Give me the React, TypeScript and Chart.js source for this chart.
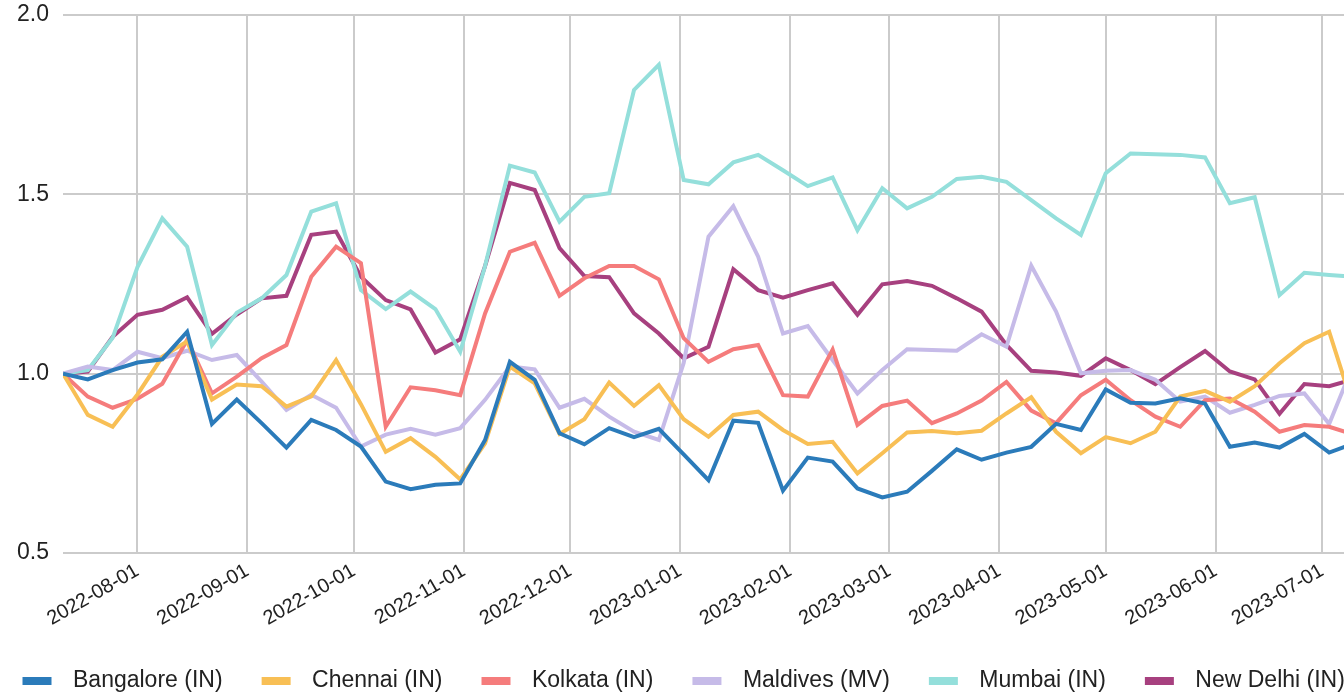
import { useEffect, useRef } from "react";
import { Chart, registerables } from "chart.js";

Chart.register(...registerables);

// Week-start dates of the weekly index
const weeks = [
  "2022-07-11", "2022-07-18", "2022-07-25", "2022-08-01", "2022-08-08", "2022-08-15",
  "2022-08-22", "2022-08-29", "2022-09-05", "2022-09-12", "2022-09-19", "2022-09-26",
  "2022-10-03", "2022-10-10", "2022-10-17", "2022-10-24", "2022-10-31", "2022-11-07",
  "2022-11-14", "2022-11-21", "2022-11-28", "2022-12-05", "2022-12-12", "2022-12-19",
  "2022-12-26", "2023-01-02", "2023-01-09", "2023-01-16", "2023-01-23", "2023-01-30",
  "2023-02-06", "2023-02-13", "2023-02-20", "2023-02-27", "2023-03-06", "2023-03-13",
  "2023-03-20", "2023-03-27", "2023-04-03", "2023-04-10", "2023-04-17", "2023-04-24",
  "2023-05-01", "2023-05-08", "2023-05-15", "2023-05-22", "2023-05-29", "2023-06-05",
  "2023-06-12", "2023-06-19", "2023-06-26", "2023-07-03", "2023-07-10",
];

// Month gridlines / x tick labels
const monthTicks = [
  "2022-08-01", "2022-09-01", "2022-10-01", "2022-11-01", "2022-12-01", "2023-01-01",
  "2023-02-01", "2023-03-01", "2023-04-01", "2023-05-01", "2023-06-01", "2023-07-01",
];

const yTickLabels = ["0.5", "1.0", "1.5", "2.0"];

const bangalore = [
  1.0, 0.984, 1.01, 1.031, 1.04, 1.117, 0.86, 0.928, 0.862, 0.794,
  0.871, 0.843, 0.797, 0.699, 0.678, 0.69, 0.694, 0.815, 1.033, 0.983,
  0.834, 0.803, 0.848, 0.823, 0.846, 0.775, 0.703, 0.869, 0.863, 0.674,
  0.766, 0.755, 0.68, 0.655, 0.671, 0.729, 0.789, 0.76, 0.78, 0.796,
  0.86, 0.843, 0.956, 0.919, 0.917, 0.931, 0.917, 0.796, 0.808, 0.794,
  0.832, 0.78, 0.806,
];

const chennai = [
  1.0, 0.885, 0.852, 0.942, 1.047, 1.09, 0.928, 0.97, 0.965, 0.908,
  0.937, 1.038, 0.915, 0.782, 0.82, 0.768, 0.705, 0.806, 1.02, 0.973,
  0.832, 0.873, 0.975, 0.91, 0.968, 0.873, 0.824, 0.885, 0.894, 0.843,
  0.804, 0.81, 0.722, 0.778, 0.836, 0.84, 0.834, 0.841, 0.889, 0.934,
  0.838, 0.778, 0.823, 0.806, 0.838, 0.936, 0.952, 0.922, 0.965, 1.029,
  1.085, 1.117, 0.9,
];

const kolkata = [
  1.0, 0.936, 0.905, 0.93, 0.972, 1.094, 0.945, 0.992, 1.043, 1.08,
  1.27, 1.354, 1.308, 0.852, 0.962, 0.954, 0.94, 1.168, 1.34, 1.365,
  1.217, 1.266, 1.3, 1.3, 1.263, 1.099, 1.033, 1.068, 1.08, 0.94,
  0.936, 1.067, 0.857, 0.91, 0.925, 0.862, 0.889, 0.925, 0.977, 0.897,
  0.862, 0.94, 0.983, 0.926, 0.88, 0.852, 0.926, 0.931, 0.894, 0.838,
  0.857, 0.852, 0.83,
];

const maldives = [
  1.0, 1.02, 1.01, 1.061, 1.043, 1.064, 1.038, 1.052, 0.978, 0.899,
  0.941, 0.905, 0.797, 0.83, 0.846, 0.83, 0.848, 0.927, 1.02, 1.012,
  0.905, 0.93, 0.88, 0.838, 0.815, 1.03, 1.382, 1.467, 1.326, 1.112,
  1.133, 1.038, 0.945, 1.01, 1.068, 1.066, 1.064, 1.11, 1.075, 1.301,
  1.173, 1.001, 1.008, 1.01, 0.983, 0.922, 0.936, 0.891, 0.913, 0.938,
  0.945, 0.86, 1.03,
];

const mumbai = [
  1.0, 1.01, 1.1, 1.297, 1.433, 1.354, 1.08, 1.17, 1.21, 1.275,
  1.452, 1.475, 1.233, 1.18, 1.229, 1.18, 1.061, 1.3, 1.58, 1.561,
  1.424, 1.493, 1.503, 1.791, 1.861, 1.54, 1.528, 1.589, 1.61, 1.567,
  1.523, 1.547, 1.4, 1.517, 1.461, 1.493, 1.543, 1.549, 1.535, 1.484,
  1.433, 1.387, 1.559, 1.614, 1.612, 1.61, 1.603, 1.475, 1.492, 1.219,
  1.281, 1.275, 1.27,
];

const newDelhi = [
  1.0, 1.006, 1.103, 1.164, 1.178, 1.213, 1.111, 1.165, 1.21, 1.217,
  1.387, 1.396, 1.27, 1.205, 1.179, 1.059, 1.096, 1.3, 1.532, 1.512,
  1.35, 1.272, 1.269, 1.168, 1.112, 1.043, 1.075, 1.291, 1.233, 1.212,
  1.233, 1.252, 1.164, 1.249, 1.258, 1.245, 1.21, 1.173, 1.08, 1.008,
  1.003, 0.994, 1.043, 1.01, 0.971, 1.018, 1.063, 1.006, 0.984, 0.888,
  0.971, 0.965, 0.985,
];

const seriesNames = [
  "Bangalore (IN)", "Chennai (IN)", "Kolkata (IN)",
  "Maldives (MV)", "Mumbai (IN)", "New Delhi (IN)",
];
const seriesValues = [bangalore, chennai, kolkata, maldives, mumbai, newDelhi];
const seriesColors = ["#2b7bba", "#f8bf55", "#f57c7c", "#c6bbe8", "#94dfdb", "#a7407f"];

const FONT = "'Liberation Sans', Arial, Helvetica, sans-serif";
const TEXT = "#222222";
const GRID = "#cbcbcb";

// Legend swatch: a short bar sitting inside a wider transparent slot
const SWATCH_SLOT = 74;
function makeSwatch(color: string): HTMLCanvasElement {
  const c = document.createElement("canvas");
  c.width = SWATCH_SLOT;
  c.height = 8;
  const g = c.getContext("2d")!;
  g.fillStyle = color;
  g.fillRect(35, 0, 29, 8);
  return c;
}

const CANVAS_W = 1354;
const CANVAS_H = 702;

export default function App() {
  const canvasRef = useRef<HTMLCanvasElement>(null);

  useEffect(() => {
    const canvas = canvasRef.current;
    if (!canvas) return;
    const swatches = seriesColors.map(makeSwatch);

    const chart = new Chart(canvas, {
      type: "line",
      data: {
        datasets: seriesNames.map((name, i) => ({
          label: name,
          data: weeks.map((w, j) => ({ x: Date.parse(w), y: seriesValues[i][j] })),
          borderColor: seriesColors[i],
          backgroundColor: seriesColors[i],
          borderWidth: 4,
          pointRadius: 0,
          pointHoverRadius: 0,
          tension: 0,
          fill: false,
        })),
      },
      options: {
        responsive: false,
        animation: false,
        devicePixelRatio: 1,
        events: [],
        layout: { padding: { left: -16.5, right: 0, top: 15, bottom: 0 } },
        font: { family: FONT, size: 23 },
        scales: {
          x: {
            type: "linear",
            min: Date.parse(weeks[0]),
            max: Date.parse(weeks[weeks.length - 1]),
            afterBuildTicks: (scale: any) => {
              scale.ticks = monthTicks.map((m) => ({ value: Date.parse(m) }));
            },
            afterFit: (scale: any) => {
              scale.height = 112;
            },
            ticks: {
              autoSkip: false,
              minRotation: 30,
              maxRotation: 30,
              padding: 6,
              color: TEXT,
              font: { family: FONT, size: 20 },
              callback: (_v: any, i: number) => monthTicks[i],
            },
            grid: { color: GRID, lineWidth: 2, drawTicks: false },
            border: { display: false },
          },
          y: {
            min: 0.5,
            max: 2.0,
            afterFit: (scale: any) => {
              scale.width = 79.5;
              scale.paddingTop = 0;
              scale.paddingBottom = 0;
            },
            ticks: {
              stepSize: 0.5,
              padding: 14,
              color: TEXT,
              font: { family: FONT, size: 23 },
              callback: (_v: any, i: number) => yTickLabels[i],
            },
            grid: { color: GRID, lineWidth: 2, drawTicks: false },
            border: { display: false },
          },
        },
        plugins: {
          tooltip: { enabled: false },
          legend: {
            position: "bottom",
            align: "start",
            labels: {
              usePointStyle: true,
              pointStyleWidth: SWATCH_SLOT,
              boxHeight: 8,
              padding: 4,
              color: TEXT,
              font: { family: FONT, size: 23 },
              generateLabels: (c: any) => {
                const items = Chart.defaults.plugins.legend.labels.generateLabels(c);
                items.forEach((it: any, i: number) => {
                  it.pointStyle = swatches[i];
                });
                return items;
              },
            },
          },
        },
      },
    } as any);

    return () => chart.destroy();
  }, []);

  return (
    <div
      style={{
        position: "fixed",
        left: 0,
        top: 0,
        width: 1344,
        height: 694,
        overflow: "hidden",
        background: "#ffffff",
      }}
    >
      <canvas
        ref={canvasRef}
        width={CANVAS_W}
        height={CANVAS_H}
        style={{ display: "block", width: CANVAS_W, height: CANVAS_H }}
      />
    </div>
  );
}
